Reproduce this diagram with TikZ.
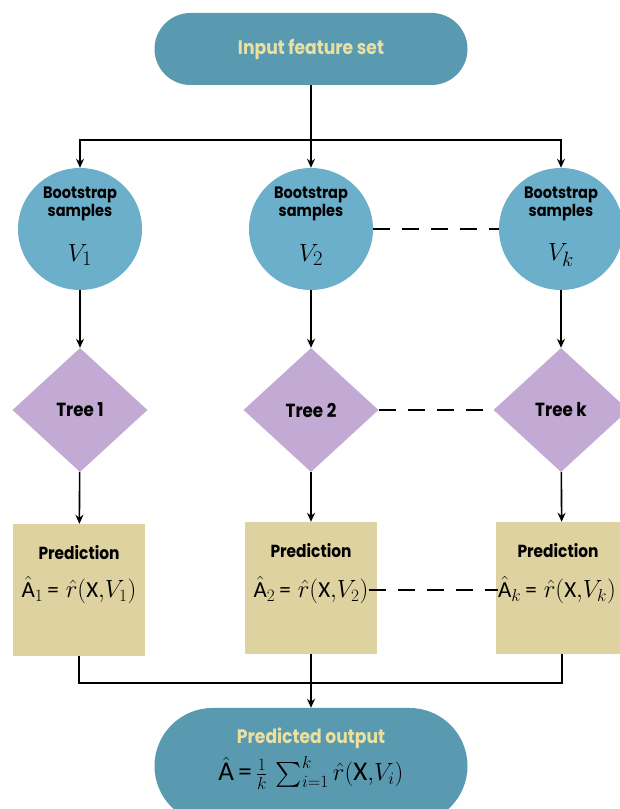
\documentclass[tikz,border=0pt]{standalone}
\usetikzlibrary{arrows.meta,positioning,shapes.geometric,shapes.misc}
\usepackage{amsmath}
\usepackage{fontspec}
\newfontfamily\labelfont[FakeStretch=0.88]{Poppins}
\newfontfamily\calfont{Carlito}
\definecolor{capblue}{RGB}{90,154,176}
\definecolor{ballblue}{RGB}{107,175,202}
\definecolor{treelilac}{RGB}{195,170,213}
\definecolor{predsand}{RGB}{222,210,160}
\definecolor{captext}{RGB}{234,224,162}
\newcommand{\hatA}{\hat{\text{\calfont A}}}
\newcommand{\capX}{\text{\calfont X}}

\begin{document}
\begin{tikzpicture}[x=1pt,y=1pt,>={Stealth[length=9pt,width=8pt]},
	capsule/.style={rounded rectangle,fill=capblue,minimum width=313pt,inner sep=0pt},
	captitle/.style={font=\labelfont\bfseries\fontsize{19.5}{21}\selectfont,text=captext},
	ball/.style={ellipse,fill=ballblue,minimum width=124pt,minimum height=122pt,inner sep=0pt},
	balltext/.style={font=\labelfont\bfseries\fontsize{16.5}{16.5}\selectfont,align=center,inner sep=0pt},
	tree/.style={diamond,fill=treelilac,minimum width=135pt,minimum height=124pt,inner sep=0pt,
		font=\labelfont\bfseries\fontsize{19}{21}\selectfont},
	predbox/.style={rectangle,fill=predsand,minimum width=132pt,minimum height=132pt,inner sep=0pt},
	predtext/.style={font=\labelfont\bfseries\fontsize{17.5}{19}\selectfont},
	formula/.style={font=\fontsize{23}{25}\selectfont,inner sep=0pt},
	flow/.style={line width=1.6pt},
	gap/.style={line width=1.6pt,dash pattern=on 17pt off 12pt}
	]

	\useasboundingbox (0,0) rectangle (619,809);

	\node[capsule,minimum height=72pt,captitle] (in) at (311,760) {Input feature set};

	\node[ball] (b1) at (80,580) {};
	\node[ball] (b2) at (311,580) {};
	\node[ball] (bk) at (561,580) {};

	% ball texts
	\node[balltext] (b1lbl) at (80,605) {Bootstrap\\samples};
	\node[balltext] (b2lbl) at (311,605) {Bootstrap\\samples};
	\node[balltext] (bklbl) at (561,605) {Bootstrap\\samples};
	\node[font=\fontsize{28}{30}\selectfont] (b1v) at (80,554) {$V_1$};
	\node[font=\fontsize{28}{30}\selectfont] (b2v) at (311,554) {$V_2$};
	\node[font=\fontsize{28}{30}\selectfont] (bkv) at (561,554) {$V_k$};

	\node[tree] (t1) at (80,399) {Tree 1};
	\node[tree] (t2) at (311,399) {Tree 2};
	\node[tree] (tk) at (561,399) {Tree k};

	\node[predbox] (p1) at (79,219) {};
	\node[predbox] (p2) at (311,221) {};
	\node[predbox] (pk) at (562,221) {};

	% box texts
	\node[predtext] (p1lbl) at (79,256) {Prediction};
	\node[predtext] (p2lbl) at (311,258) {Prediction};
	\node[predtext] (pklbl) at (558,258) {Prediction};
	\node[formula] (p1f) at (79,219) {$\hatA_1\,${\calfont=} $\hat r(\capX{,}V_1)$};
	\node[formula] (p2f) at (311,219) {$\hatA_2\,${\calfont=} $\hat r(\capX{,}V_2)$};
	\node[formula] (pkf) at (557,219) {$\hatA_k\,${\calfont=} $\hat r(\capX{,}V_k)$};

	\node[capsule,minimum height=116pt] (out) at (311,43) {};
	\node[captitle] (outlbl) at (311,71) {Predicted output};
	\node[formula,font=\fontsize{27}{29}\selectfont] (outf) at (311,36) {$\hatA\,${\calfont=}$\,\frac{1}{k}\,\sum_{i=1}^{k}\hat r(\capX{,}V_i)$};

	\coordinate (split) at (311,669);
	\coordinate (merge) at (311,126);

	\draw[flow] (in) -- (split);
	\draw[flow,->] (split) -| (b1);
	\draw[flow,->] (split) -- (b2);
	\draw[flow,->] (split) -| (bk);

	\draw[flow,->] (b1) -- (t1);
	\draw[flow,->] (b2) -- (t2);
	\draw[flow,->] (bk) -- (tk);
	\draw[flow,->] (t1) -- (p1);
	\draw[flow,->] (t2) -- (p2);
	\draw[flow,->] (tk) -- (pk);

	\draw[flow] (p1) |- (merge);
	\draw[flow] (pk) |- (merge);
	\draw[flow,->] (p2) -- (out);

	\draw[gap] (b2) -- (bk);
	\draw[gap] (t2) -- (tk);
	\draw[gap] (p2f) -- (pkf);

\end{tikzpicture}
\end{document}
